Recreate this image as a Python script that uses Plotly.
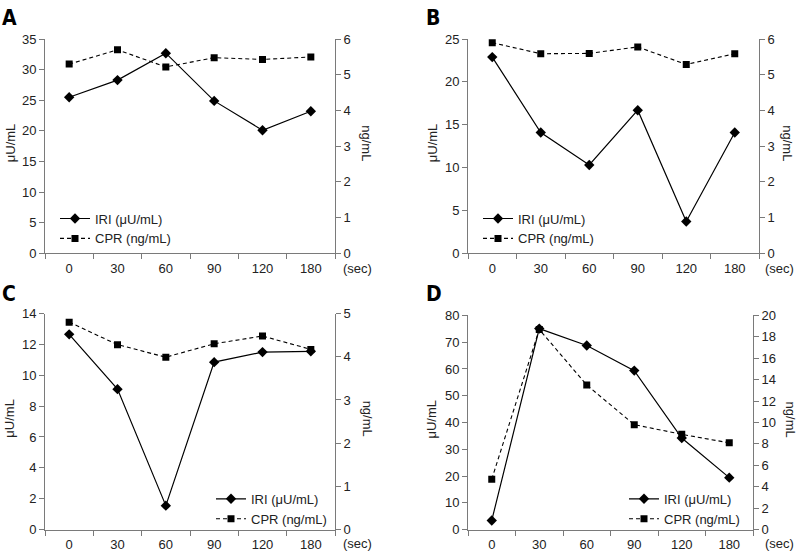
import plotly.graph_objects as go

TIMES = ['0', '30', '60', '90', '120', '180']
PANELS = ['A', 'B', 'C', 'D']

IRI_A = [25.5, 28.3, 32.7, 24.9, 20.1, 23.2]
CPR_A = [5.3, 5.7, 5.22, 5.48, 5.43, 5.5]
IRI_B = [22.9, 14.1, 10.3, 16.7, 3.7, 14.1]
CPR_B = [5.9, 5.59, 5.6, 5.78, 5.29, 5.59]
IRI_C = [12.65, 9.1, 1.55, 10.85, 11.5, 11.55]
CPR_C = [4.8, 4.28, 3.99, 4.3, 4.48, 4.17]
IRI_D = [3.4, 75.1, 68.8, 59.4, 34.2, 19.4]
CPR_D = [4.7, 18.7, 13.5, 9.8, 8.9, 8.1]

IRI = [IRI_A, IRI_B, IRI_C, IRI_D]
CPR = [CPR_A, CPR_B, CPR_C, CPR_D]

LEFT_RANGE = [(35, 5), (25, 5), (14, 2), (80, 10)]   # (max, dtick)
RIGHT_RANGE = [(6, 1), (6, 1), (5, 1), (20, 2)]

W, H = 798, 558
# plot areas in pixels: left, right, top, bottom
BOXES = [(45, 335, 33, 253), (468, 759, 33, 253), (45, 335, 315, 537), (468, 753, 317, 537)]
LEGENDS = [(55, 202, 'left'), (478, 202, 'left'), (332, 490, 'right'), (745, 490, 'right')]
# x of left / right axis titles, "(sec)" start, panel letter centre
TITLE_X = [(10, 367), (432, 788), (10, 367), (432, 790)]
SEC_POS = [(341, 269), (763, 269), (341, 551), (763, 551)]
LETTER_POS = [(0, 11), (424, 11), (0, 295), (424, 295)]

FONT = 'Liberation Sans, Arial, sans-serif'
AXIS_COL = '#7a7a7a'
TEXT_COL = '#222222'

fig = go.Figure()
layout = dict(
    width=W, height=H,
    margin=dict(l=0, r=0, t=0, b=0),
    plot_bgcolor='white', paper_bgcolor='white',
    font=dict(family=FONT, size=13, color=TEXT_COL),
    annotations=[],
)

for i, p in enumerate(PANELS):
    xa = 'x' if i == 0 else f'x{i + 1}'
    yl = f'y{2 * i + 1}'
    yr = f'y{2 * i + 2}'
    yl_key = 'yaxis' if i == 0 else f'yaxis{2 * i + 1}'
    yr_key = f'yaxis{2 * i + 2}'
    xa_key = 'xaxis' if i == 0 else f'xaxis{i + 1}'
    leg = 'legend' if i == 0 else f'legend{i + 1}'

    fig.add_trace(go.Scatter(
        x=TIMES, y=IRI[i], xaxis=xa, yaxis=yl, name='IRI (μU/mL)',
        mode='lines+markers', line=dict(color='black', width=1.2),
        marker=dict(symbol='diamond', size=8, color='black'), legend=leg,
    ))
    fig.add_trace(go.Scatter(
        x=TIMES, y=CPR[i], xaxis=xa, yaxis=yr, name='CPR (ng/mL)',
        mode='lines+markers', line=dict(color='black', width=1.1, dash='4px,3px'),
        marker=dict(symbol='square', size=7, color='black'), legend=leg,
    ))

    l, r, t, b = BOXES[i]
    xdom = [l / W, r / W]
    ydom = [1 - b / H, 1 - t / H]

    layout[xa_key] = dict(
        domain=xdom, anchor=yl, type='category', range=[-0.5, 5.5],
        tickson='boundaries', ticks='outside', ticklen=5, tickcolor=AXIS_COL,
        ticklabelstandoff=3,
        showline=True, linecolor=AXIS_COL, linewidth=1, showgrid=False,
        tickfont=dict(size=13, color=TEXT_COL),
    )
    lmax, ldt = LEFT_RANGE[i]
    layout[yl_key] = dict(
        domain=ydom, anchor=xa, range=[0, lmax], dtick=ldt,
        ticks='outside', ticklen=5, tickcolor=AXIS_COL,
        showline=True, linecolor=AXIS_COL, linewidth=1, showgrid=False, zeroline=False,
        tickfont=dict(size=13, color=TEXT_COL),
    )
    rmax, rdt = RIGHT_RANGE[i]
    layout[yr_key] = dict(
        domain=ydom, anchor=xa, overlaying=yl, side='right', range=[0, rmax], dtick=rdt,
        ticks='outside', ticklen=5, tickcolor=AXIS_COL,
        showline=True, linecolor=AXIS_COL, linewidth=1, showgrid=False, zeroline=False,
        tickfont=dict(size=13, color=TEXT_COL),
    )

    lx, ly, anchor = LEGENDS[i]
    layout[leg] = dict(
        x=lx / W, y=1 - ly / H, xanchor=anchor, yanchor='top', xref='paper', yref='paper',
        bgcolor='rgba(0,0,0,0)', font=dict(size=13, color=TEXT_COL),
        tracegroupgap=0, itemwidth=30,
    )

    ymid = 1 - ((t + b) / 2 - 3) / H
    tl, tr = TITLE_X[i]
    layout['annotations'].append(dict(
        text='μU/mL', x=tl / W, y=ymid, xref='paper', yref='paper', textangle=-90,
        xanchor='center', yanchor='middle', showarrow=False, font=dict(size=13),
    ))
    layout['annotations'].append(dict(
        text='ng/mL', x=tr / W, y=ymid, xref='paper', yref='paper', textangle=90,
        xanchor='center', yanchor='middle', showarrow=False, font=dict(size=13),
    ))

    lx0, ly0 = LETTER_POS[i]
    layout['annotations'].append(dict(
        text=f'<b>{p}</b>', x=lx0 / W, y=1 - ly0 / H,
        xref='paper', yref='paper', xanchor='left', yanchor='middle', showarrow=False,
        font=dict(family='DejaVu Sans Condensed, DejaVu Sans', size=21, color='black'),
    ))
    sx, sy = SEC_POS[i]
    layout['annotations'].append(dict(
        text='(sec)', x=sx / W, y=1 - sy / H, xref='paper', yref='paper',
        xanchor='left', yanchor='middle', showarrow=False,
        font=dict(size=13, color=TEXT_COL),
    ))

fig.update_layout(**layout)
# page margin would shift the figure by 8px and clip its right/bottom edge
fig.write_html('out.html', config={'displayModeBar': False},
               post_script="document.body.style.margin='0';")
